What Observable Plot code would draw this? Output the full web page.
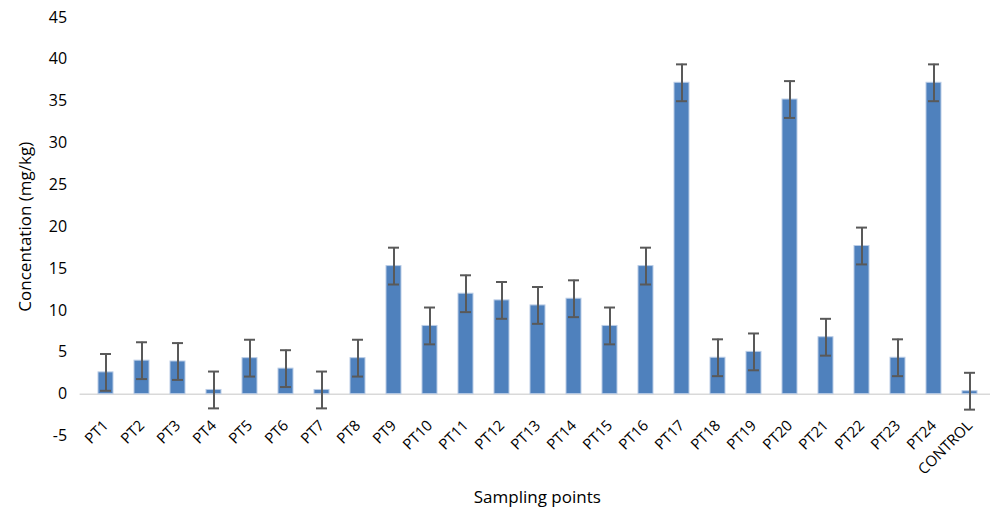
<!DOCTYPE html>
<html><head><meta charset="utf-8">
<script src="https://cdn.jsdelivr.net/npm/d3@7"></script>
<script src="https://cdn.jsdelivr.net/npm/@observablehq/plot@0.6"></script>
<style>
html,body{margin:0;padding:0;background:#fff;}
#chart svg{font-family:"Open Sans",sans-serif;}
</style>
</head><body><div id="chart"></div>
<script>
const categories = ["PT1","PT2","PT3","PT4","PT5","PT6","PT7","PT8","PT9","PT10","PT11","PT12","PT13","PT14","PT15","PT16","PT17","PT18","PT19","PT20","PT21","PT22","PT23","PT24","CONTROL"];
const values = [2.6,4.0,3.9,0.5,4.3,3.05,0.5,4.3,15.3,8.15,12.0,11.2,10.6,11.4,8.15,15.3,37.2,4.35,5.05,35.2,6.8,17.7,4.35,37.2,0.35];
const errors = [2.2,2.2,2.2,2.2,2.2,2.2,2.2,2.2,2.2,2.2,2.2,2.2,2.2,2.2,2.2,2.2,2.2,2.2,2.2,2.2,2.2,2.2,2.2,2.2,2.2];
const yTicks = [-5,0,5,10,15,20,25,30,35,40,45];

const data = categories.map((c,i)=>({cat:c, v:values[i], lo:values[i]-errors[i], hi:values[i]+errors[i]}));

const chart = Plot.plot({
  width: 994, height: 514,
  marginTop: 17, marginBottom: 78.5, marginLeft: 83.6, marginRight: 4,
  style: {fontSize: "15px", fontFamily: "'Open Sans', sans-serif", color: "#000", background: "#fff"},
  x: {domain: categories, paddingInner: 0.595, paddingOuter: 0.2975, align: 0.5},
  y: {domain: [-5, 45]},
  marks: [
    Plot.ruleY([0], {stroke: "#d9d9d9", strokeWidth: 1.5, insetLeft: -4}),
    Plot.barY(data, {x: "cat", y: "v", fill: "#4f81bd", stroke: "#b9cce6", strokeWidth: 1}),
    Plot.ruleX(data, {x: "cat", y1: "lo", y2: "hi", stroke: "#595959", strokeWidth: 2}),
    Plot.tickY(data, {x: "cat", y: "hi", stroke: "#595959", strokeWidth: 2, insetLeft: 13, insetRight: 13}),
    Plot.tickY(data, {x: "cat", y: "lo", stroke: "#595959", strokeWidth: 2, insetLeft: 13, insetRight: 13}),
    Plot.axisY({ticks: yTicks, tickFormat: d => String(d), tickSize: 0, tickPadding: 17, label: null, fontSize: 16}),
    Plot.axisX({tickSize: 0, tickRotate: -45, tickPadding: 0, dy: -13, dx: 0, label: null, fontSize: 15}),
    Plot.text(["Concentation (mg/kg)"], {frameAnchor: "left", textAnchor: "middle", rotate: -90, dx: -59, dy: 0, fontSize: 17}),
    Plot.text(["Sampling points"], {frameAnchor: "bottom", dy: 67, fontSize: 17})
  ]
});
document.getElementById("chart").appendChild(chart);
</script>
</body></html>
